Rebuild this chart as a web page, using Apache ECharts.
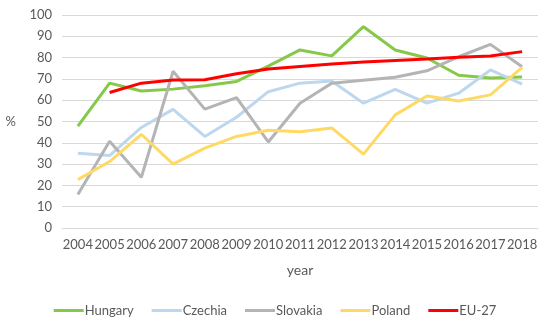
<!DOCTYPE html>
<html><head><meta charset="utf-8">
<script src="https://cdn.jsdelivr.net/npm/echarts@6/dist/echarts.min.js"></script>
<style>html,body{margin:0;padding:0;background:#fff}#c{width:550px;height:322px}</style>
</head><body><div id="c"></div>
<script>
var years = ['2004','2005','2006','2007','2008','2009','2010','2011','2012','2013','2014','2015','2016','2017','2018'];
var hungary  = [47.8, 68, 64.3, 65.2, 66.8, 68.8, 76, 83.6, 80.8, 94.5, 83.6, 79.8, 71.7, 70.4, 70.9];
var czechia  = [35.1, 34, 47.2, 55.7, 43, 52, 64, 68, 69, 58.6, 65.1, 58.6, 63.3, 74.2, 67.5];
var slovakia = [15.7, 40.7, 23.8, 73.6, 55.8, 61.2, 40.4, 58.6, 68, 69.4, 70.8, 73.8, 80.4, 86.2, 75.7];
var poland   = [22.7, 31.2, 44, 30, 37.5, 43, 45.9, 45.2, 47, 34.7, 53.1, 62, 59.6, 62.5, 75.4];
var eu27     = [null, 63.6, 68, 69.5, 69.6, 72.4, 74.6, 75.8, 77, 77.9, 78.6, 79.3, 80.2, 80.8, 82.8];
var yTicks = [0,10,20,30,40,50,60,70,80,90,100];

var font = 'Lato, "Open Sans", sans-serif';
function s(name, data, color, z){
  return {name:name, type:'line', data:data, symbol:'none', z:z||2,
    lineStyle:{color:color, width:3}, itemStyle:{color:color}, connectNulls:false};
}
var chart = echarts.init(document.getElementById('c'));
chart.setOption({
  animation:false,
  textStyle:{fontFamily:font},
  grid:{left:62, right:12, top:15, bottom:94},
  xAxis:{type:'category', data:years, boundaryGap:true,
    name:'year', nameLocation:'middle', nameGap:35,
    nameTextStyle:{color:'#595959', fontSize:14, fontFamily:font},
    axisLine:{show:true, lineStyle:{color:'#d9d9d9'}}, axisTick:{show:false},
    axisLabel:{color:'#595959', fontSize:13, fontFamily:font, interval:0, margin:10}},
  yAxis:{type:'value', min:yTicks[0], max:yTicks[yTicks.length-1], interval:10,
    name:'%', nameLocation:'middle', nameRotate:0, nameGap:46,
    nameTextStyle:{color:'#595959', fontSize:13, fontFamily:font},
    axisLine:{show:false}, axisTick:{show:false},
    axisLabel:{color:'#595959', fontSize:13, fontFamily:font, margin:10},
    splitLine:{lineStyle:{color:'#d9d9d9', width:1}}},
  legend:{bottom:0, left:'center', itemWidth:30, itemHeight:3, itemGap:18,
    icon:'rect',
    textStyle:{color:'#595959', fontSize:13, fontFamily:font, padding:[0,0,0,-4]},
    data:['Hungary','Czechia','Slovakia','Poland','EU-27']},
  series:[
    s('Hungary', hungary, '#86C849'),
    s('Czechia', czechia, '#BDD7EE'),
    s('Slovakia', slovakia, '#B4B4B4'),
    s('Poland', poland, '#FFD966'),
    s('EU-27', eu27, '#FF0000', 5)
  ]
});
</script></body></html>
